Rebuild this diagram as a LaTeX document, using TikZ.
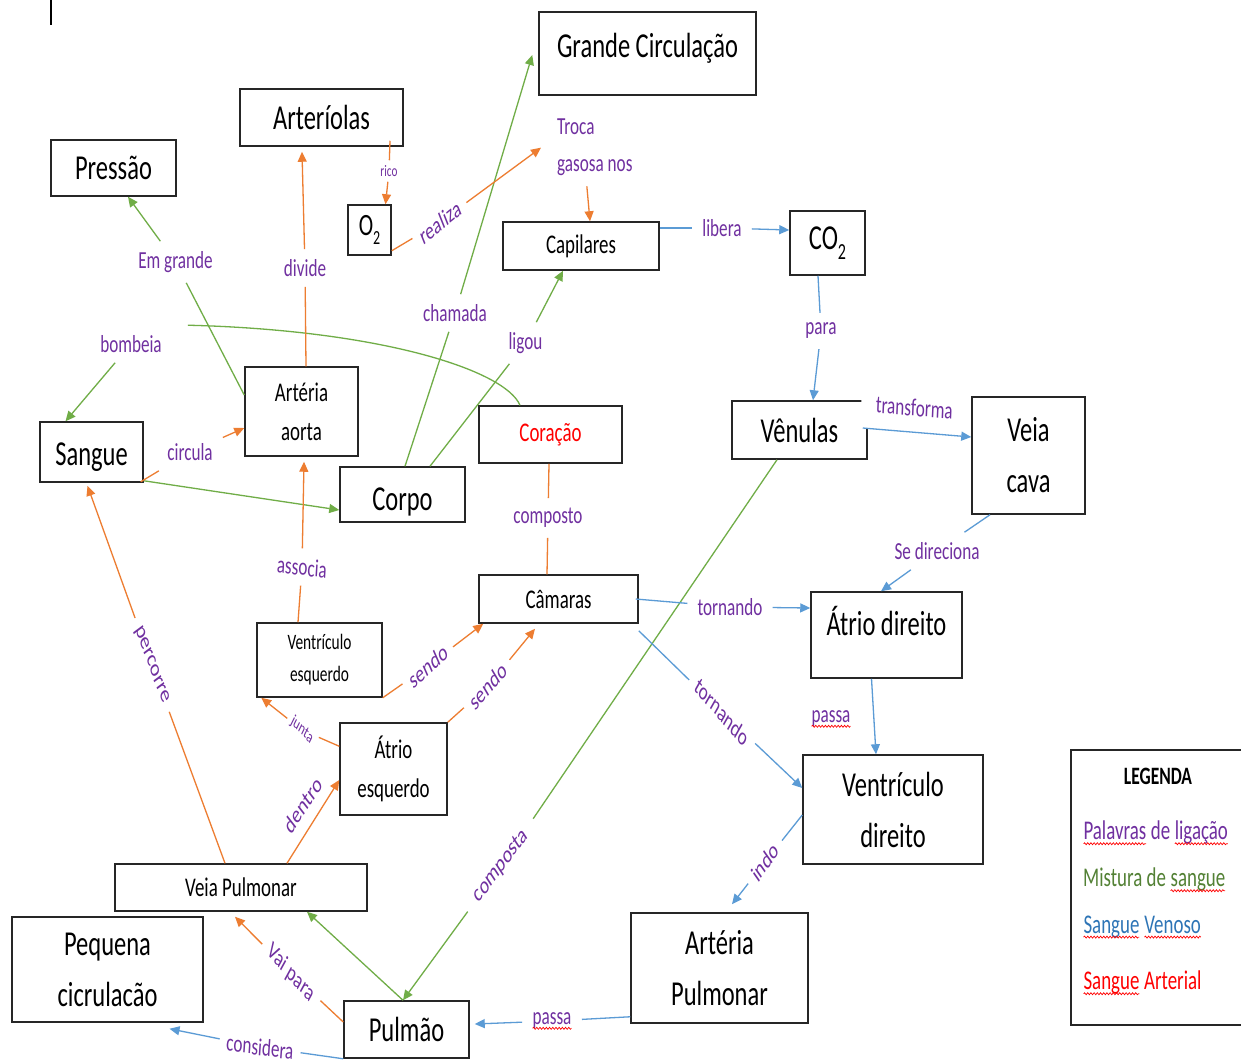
\documentclass[tikz,border=0pt]{standalone}
\usepackage{fontspec}
\setmainfont{Carlito}[FakeStretch=0.7]
\newfontfamily\plainfont{Carlito}
\usetikzlibrary{arrows.meta,decorations.pathmorphing}

\definecolor{lnkpurple}{HTML}{7030A0}
\definecolor{mixgreen}{HTML}{70AD47}
\definecolor{artorange}{HTML}{ED7D31}
\definecolor{venblue}{HTML}{5B9BD5}
\definecolor{legblue}{HTML}{2E75B6}
\definecolor{leggreen}{HTML}{538135}

\newcommand\fs[1]{\fontsize{#1}{#1}\selectfont}
% red spell-check style wavy underline
\newcommand\wavy[1]{\tikz[baseline=(wv.base)]{\node[inner sep=0pt,outer sep=0pt,draw=none,fill=none,rotate=0](wv){#1};\draw[-,red,line width=0.7pt,decorate,decoration={snake,amplitude=1pt,segment length=3.2pt}] ([yshift=-4pt]wv.base west) -- ([yshift=-4pt]wv.base east);}}
\newcommand\lowtwo[1]{\raisebox{-0.3em}{\fontsize{#1}{#1}\selectfont 2}}

\tikzset{
  box/.style={draw=black!85, line width=1.5pt, inner sep=1pt, align=center, text=black},
  big/.style={font=\fontsize{35}{51}\selectfont},
  mid/.style={font=\fontsize{27}{39}\selectfont},
  lbl/.style={text=lnkpurple, font=\fontsize{24.5}{24.5}\selectfont, inner sep=10pt},
  % slanted linking word: turned first, then narrowed like the rest of the sheet
  tilt/.style={xscale=0.7, rotate=#1, font=\plainfont\fontsize{24.5}{24.5}\selectfont},
  conn/.style={line width=1.3pt},
  arr/.style={-{Triangle[length=10pt,width=9pt]}},
  gl/.style={conn, draw=mixgreen},
  ol/.style={conn, draw=artorange},
  bl/.style={conn, draw=venblue},
}

\begin{document}
\begin{tikzpicture}[x=1pt,y=-1pt]
\useasboundingbox (0,0) rectangle (1241,1061);
\clip (0,0) rectangle (1241,1061);
\fill[white] (0,0) rectangle (1241,1061);
\draw[line width=1.2pt] (51,0) -- (51,25);

% ---------- concept boxes ----------
\node[box, big, minimum width=125pt, minimum height=56pt] (pressao) at (113.5,168) {Pressão};
\node[box, big, minimum width=163pt, minimum height=57pt] (arteriolas) at (321.5,117.5) {Arteríolas};
\node[box, font=\fs{31}, minimum width=43pt, minimum height=50pt] (o2) at (369.5,230) {O\lowtwo{20}};
\node[box, big, minimum width=217pt, minimum height=83pt, text height=24pt, text depth=17pt] (grande) at (647.5,53.5) {Grande Circulação};
\node[box, mid, minimum width=156pt, minimum height=48pt] (capilares) at (581,246) {Capilares};
\node[box, big, minimum width=75pt, minimum height=64pt] (co2) at (827.5,243) {CO\lowtwo{23}};
\node[box, big, minimum width=103pt, minimum height=60pt, text height=26pt, text depth=0pt] (sangue) at (91.5,452) {Sangue};
\node[box, mid, minimum width=113pt, minimum height=89pt] (aorta) at (301.5,411.5) {Artéria\\aorta};
\node[box, big, minimum width=125pt, minimum height=55pt, text height=31pt, text depth=0pt] (corpo) at (402.5,494.5) {Corpo};
\node[box, mid, minimum width=143pt, minimum height=57pt, text=red] (coracao) at (550.5,434.5) {Coração};
\node[box, big, minimum width=135pt, minimum height=58pt] (venulas) at (799.5,430) {Vênulas};
\node[box, big, minimum width=113pt, minimum height=117pt] (veiacava) at (1028.5,455.5) {Veia\\cava};
\node[box, mid, minimum width=159pt, minimum height=48pt] (camaras) at (558.5,599) {Câmaras};
\node[box, big, minimum width=151pt, minimum height=86pt, text height=22pt, text depth=22pt] (atriodir) at (886.5,635) {Átrio direito};
\node[box, font=\fontsize{22}{32}\selectfont, minimum width=125pt, minimum height=74pt] (ventesq) at (319.5,660) {Ventrículo\\esquerdo};
\node[box, mid, minimum width=107pt, minimum height=92pt] (atrioesq) at (393.5,769) {Átrio\\esquerdo};
\node[box, big, minimum width=180pt, minimum height=109pt] (ventdir) at (893,809.5) {Ventrículo\\direito};
\node[box, mid, minimum width=252pt, minimum height=47pt] (veiapulm) at (241,887.5) {Veia Pulmonar};
\node[box, big, minimum width=191pt, minimum height=105pt] (pequena) at (107.5,969.5) {Pequena\\cicrulacão};
\node[box, big, minimum width=125pt, minimum height=57pt] (pulmao) at (406.5,1029.5) {Pulmão};
\node[box, big, minimum width=177pt, minimum height=110pt] (artpulm) at (719.5,968) {Artéria\\Pulmonar};

% ---------- linking words ----------
\node[lbl] (bombeia) at (131,344) {bombeia};
\node[lbl] (emgrande) at (175.5,262) {Em grande};
\node[lbl] (chamada) at (455,313) {chamada};
\node[lbl] (ligou) at (525.5,343) {ligou};
\node[lbl, tilt=43, inner sep=17pt] (composta) at (501,866) {composta};
\node[lbl] (circula) at (190,452) {circula};
\node[lbl] (divide) at (305,268) {divide};
\node[lbl, font=\fs{16}, inner sep=5pt] (rico) at (389,171) {rico};
\node[lbl, tilt=29.5] (realiza) at (440,222) {realiza};
\node[lbl, align=left, font=\fontsize{24.5}{37}\selectfont, anchor=north west] (troca) at (547,109) {Troca\\gasosa nos};
\node[lbl, tilt=-5] (associa) at (302,567) {associa};
\node[lbl] (composto) at (548,518) {composto};
\node[lbl, tilt=32] (sendoA) at (428,666) {sendo};
\node[lbl, tilt=40] (sendoB) at (488,686) {sendo};
\node[lbl, tilt=-35, font=\plainfont\fs{17}, inner sep=6pt] (junta) at (302,730) {junta};
\node[lbl, tilt=-62.5] (percorre) at (152,665) {percorre};
\node[lbl, tilt=-38] (vaipara) at (291,973) {Vai para};
\node[lbl, inner sep=1pt, tilt=48] (dentro) at (303,805) {dentro};
\node[lbl] (libera) at (722,228) {libera};
\node[lbl] (para) at (821,331) {para};
\node[lbl, tilt=-3.5, fill=white, anchor=base, inner xsep=21pt, text depth=7pt] (transforma) at (914,416) {transforma};
\node[lbl] (sedir) at (937,551) {Se direciona};
\node[lbl] (tornA) at (730,607) {tornando};
\node[lbl, tilt=-39] (tornB) at (722,712) {tornando};
\node[lbl, inner sep=2pt] (passaA) at (831,719) {\wavy{passa}};
\node[lbl, tilt=45] (indo) at (765,862) {indo};
\node[lbl] (passaB) at (552,1021) {\wavy{passa}};
\node[lbl, tilt=-5.6] (considera) at (260,1047) {considera};

% ---------- mixed blood (green) ----------
\draw[gl] ([xshift=-30.5pt]coracao.north) .. controls (505,370) and (380,330) .. ([xshift=16pt]bombeia.north east);
\draw[gl, arr] (bombeia) -- ([xshift=-26pt]sangue.north);
\draw[gl] ([yshift=16.5pt]aorta.west) -- (emgrande);
\draw[gl, arr] (emgrande) -- ([xshift=14.5pt]pressao.south);
\draw[gl, arr] ([yshift=2pt]sangue.south east) -- ([yshift=-15.5pt]corpo.west);
\draw[gl] ([xshift=2.5pt]corpo.north) -- (chamada);
\draw[gl, arr] (chamada) -- ([xshift=-6pt,yshift=-1.5pt]grande.west);
\draw[gl] ([xshift=27.5pt]corpo.north) -- (ligou);
\draw[gl, arr] (ligou) -- ([xshift=-18pt]capilares.south);
\draw[gl] ([xshift=-22.5pt]venulas.south) -- (composta);
\draw[gl, arr] (composta) -- ([xshift=-3.5pt]pulmao.north);
\draw[gl, arr] ([xshift=-3.5pt]pulmao.north) -- ([xshift=66pt]veiapulm.south);

% ---------- arterial blood (orange) ----------
\draw[ol] ([xshift=-3pt,yshift=1pt]sangue.south east) -- (circula);
\draw[ol, arr] (circula) -- ([yshift=-16.5pt]aorta.west);
\draw[ol] ([xshift=4.5pt]aorta.north) -- (divide);
\draw[ol, arr] (divide) -- ([xshift=-19.5pt,yshift=-5pt]arteriolas.south);
\draw[ol] ([xshift=68.5pt,yshift=6pt]arteriolas.south) -- (rico);
\draw[ol, arr] (rico) -- ([xshift=16pt]o2.north);
\draw[ol] ([yshift=5pt]o2.south east) -- (realiza);
\draw[ol, arr] (realiza) -- ([xshift=-6pt]troca.west);
\draw[ol, arr] ([xshift=-8pt]troca.south) -- ([xshift=9pt]capilares.north);
\draw[ol] ([xshift=-21.5pt]ventesq.north) -- (associa);
\draw[ol, arr] (associa) -- ([xshift=2.5pt,yshift=-5pt]aorta.south);
\draw[ol] ([xshift=-1.5pt]coracao.south) -- (composto);
\draw[ol] (composto) -- ([xshift=-11.5pt]camaras.north);
\draw[ol] (ventesq.south east) -- (sendoA);
\draw[ol, arr] (sendoA) -- ([xshift=5pt]camaras.south west);
\draw[ol] (atrioesq.north east) -- (sendoB);
\draw[ol, arr] (sendoB) -- ([xshift=-23.5pt,yshift=-5pt]camaras.south);
\draw[ol] ([yshift=-24pt]atrioesq.north west) -- (junta);
\draw[ol, arr] (junta) -- ([xshift=5pt]ventesq.south west);
\draw[ol, arr] ([xshift=46pt]veiapulm.north) -- ([yshift=-11pt]atrioesq.west);
\draw[ol] ([xshift=-16pt]veiapulm.north) -- (percorre);
\draw[ol, arr] (percorre) -- ([xshift=-4pt,yshift=-3pt]sangue.south);
\draw[ol] ([yshift=7.5pt]pulmao.west) -- (vaipara);
\draw[ol, arr] (vaipara) -- ([xshift=-6pt,yshift=-5pt]veiapulm.south);

% ---------- venous blood (blue) ----------
\draw[bl] ([yshift=18pt]capilares.east) -- (libera);
\draw[bl, arr] (libera) -- ([yshift=13pt]co2.west);
\draw[bl] ([xshift=-9.5pt]co2.south) -- (para);
\draw[bl, arr] (para) -- ([xshift=13.5pt]venulas.north);
\draw[bl, arr] ([xshift=-5pt,yshift=2pt]venulas.east) -- ([yshift=18.5pt]veiacava.west);
\draw[bl] ([xshift=-38.5pt]veiacava.south) -- (sedir);
\draw[bl, arr] (sedir) -- ([xshift=-5.5pt]atriodir.north);
\draw[bl] ([xshift=-3pt]camaras.east) -- (tornA);
\draw[bl, arr] (tornA) -- ([yshift=27pt]atriodir.west);
\draw[bl] ([yshift=-7pt]camaras.south east) -- (tornB);
\draw[bl, arr] (tornB) -- ([yshift=21.5pt]ventdir.west);
\draw[bl, arr] ([xshift=-15pt]atriodir.south) -- ([xshift=-17pt]ventdir.north);
\draw[bl] ([yshift=-5.5pt]ventdir.west) -- (indo);
\draw[bl, arr] (indo) -- ([xshift=12.5pt,yshift=8pt]artpulm.north);
\draw[bl] ([yshift=7pt]artpulm.south west) -- (passaB);
\draw[bl, arr] (passaB) -- ([xshift=5pt,yshift=5.5pt]pulmao.east);
\draw[bl] (pulmao.south west) -- (considera);
\draw[bl, arr] (considera) -- ([xshift=62pt,yshift=-6pt]pequena.south);

% ---------- legend ----------
\node[draw=black!85, line width=1.5pt, minimum width=180pt, minimum height=275pt] (legenda) at (1161,887.5) {};
\node[font=\bfseries\fs{25}, inner sep=0pt] (legtitle) at (1158,776) {LEGENDA};
\node[anchor=west, inner sep=0pt, text=lnkpurple, font=\fs{27}] (legA) at (1083,833) {\wavy{Palavras} de \wavy{ligação}};
\node[anchor=west, inner sep=0pt, text=leggreen, font=\fs{27}] (legB) at (1083,880) {Mistura de \wavy{sangue}};
\node[anchor=west, inner sep=0pt, text=legblue, font=\fs{27}] (legC) at (1083,927) {\wavy{Sangue} \wavy{Venoso}};
\node[anchor=west, inner sep=0pt, text=red, font=\fs{27}] (legD) at (1083,983) {\wavy{Sangue} Arterial};
\end{tikzpicture}
\end{document}
